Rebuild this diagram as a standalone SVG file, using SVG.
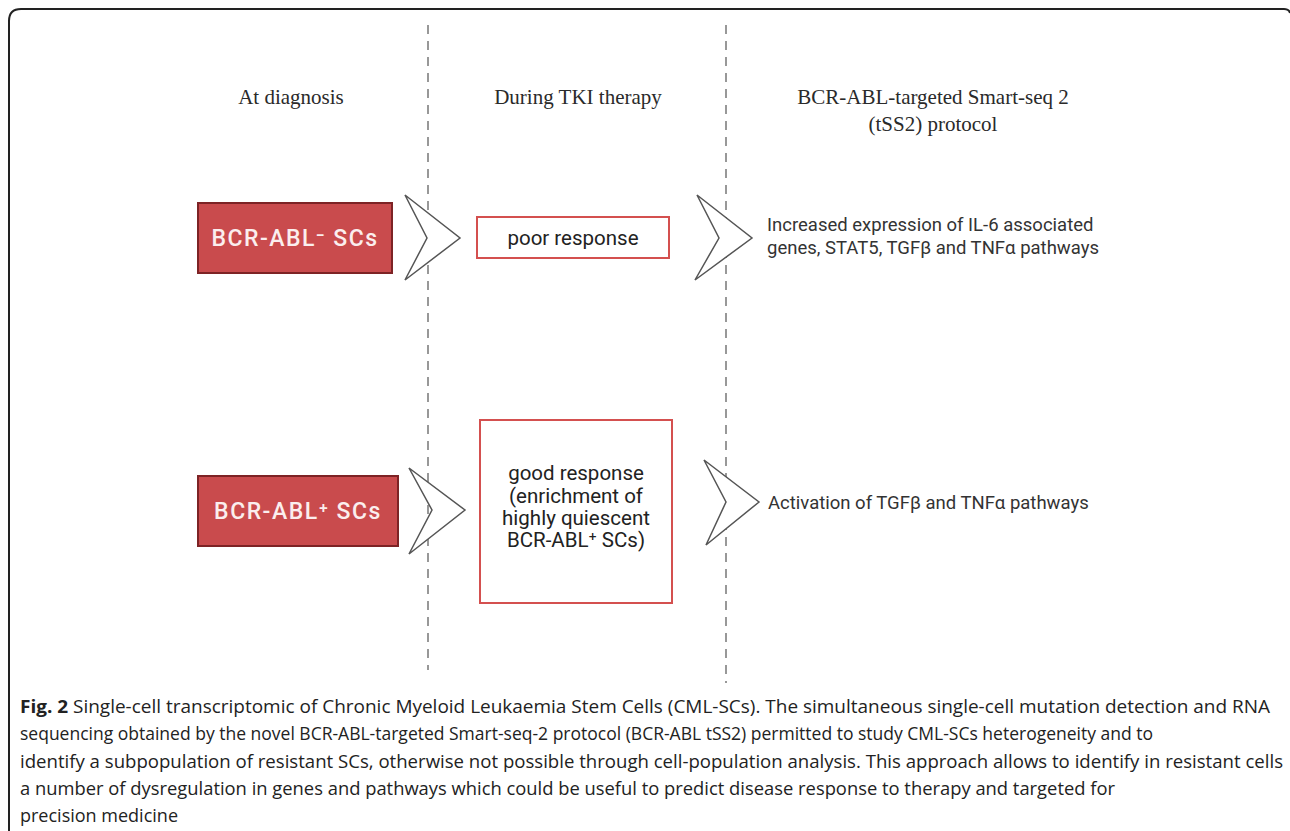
<svg xmlns="http://www.w3.org/2000/svg" width="1290" height="831" viewBox="0 0 1290 831">
<defs>
<style>
.hdr{font-family:"Liberation Serif","DejaVu Serif",serif;font-size:21px;fill:#2a2a2a;text-anchor:middle}
.red rect{fill:#c94b4d;stroke:#7d2325;stroke-width:2}
.red text{font-family:Roboto,"DejaVu Sans",sans-serif;font-weight:500;font-size:23px;fill:#fbeeee;text-anchor:middle;letter-spacing:1.5px}
.wbox rect{fill:#fff;stroke:#d4504f;stroke-width:2}
.wbox text{font-family:Roboto,"Liberation Sans",sans-serif;font-size:20.5px;fill:#222;text-anchor:middle}
.res text{font-family:Roboto,"Liberation Sans",sans-serif;font-size:18.5px;fill:#333}
.chev{fill:#fff;stroke:#555;stroke-width:1.5;stroke-linejoin:miter}
.dash{stroke:#777;stroke-width:1.5;stroke-dasharray:9 7;fill:none}
.cap{font-family:"Open Sans","Liberation Sans",sans-serif;font-size:18.5px;fill:#222}
</style>
</defs>
<rect width="1290" height="831" fill="#fff"/>
<path d="M9,831 V21 Q9,9 21,9 H1284 Q1289,9 1290,13" fill="none" stroke="#222" stroke-width="2"/>
<g id="dividers">
<line class="dash" x1="428" y1="25" x2="428" y2="670"/>
<line class="dash" x1="726" y1="25" x2="726" y2="683"/>
</g>
<g id="headers">
<text class="hdr" x="291" y="104">At diagnosis</text>
<text class="hdr" x="578" y="104">During TKI therapy</text>
<text class="hdr" x="933" y="104">BCR-ABL-targeted Smart-seq 2</text>
<text class="hdr" x="933" y="131">(tSS2) protocol</text>
</g>
<g id="connectors">
<polygon class="chev" points="405,195 460,238 405,280 427,238"/>
<polygon class="chev" points="409,468 465,510 409,554 432,510"/>
<polygon class="chev" points="697,195 752,238 695,280 719,238"/>
<polygon class="chev" points="704,460 759,502 706,545 726,502"/>
</g>
<g id="node-neg" class="red">
<rect x="198" y="203" width="194" height="70"/>
<text x="295" y="246">BCR-ABL⁻ SCs</text>
</g>
<g id="node-pos" class="red">
<rect x="198" y="476" width="200" height="70"/>
<text x="298" y="519">BCR-ABL⁺ SCs</text>
</g>
<g id="node-poor" class="wbox">
<rect x="477" y="217" width="192" height="41"/>
<text x="573" y="245">poor response</text>
</g>
<g id="node-good" class="wbox">
<rect x="480" y="420" width="192" height="183"/>
<text x="576" y="480">good response</text>
<text x="576" y="503">(enrichment of</text>
<text x="576" y="525">highly quiescent</text>
<text x="576" y="547">BCR-ABL⁺ SCs)</text>
</g>
<g id="node-res1" class="res">
<text x="767" y="231">Increased expression of IL-6 associated</text>
<text x="767" y="254">genes, STAT5, TGFβ and TNFα pathways</text>
</g>
<g id="node-res2" class="res">
<text x="768" y="509">Activation of TGFβ and TNFα pathways</text>
</g>
<g id="caption" class="cap">
<text x="20" y="713" textLength="1250" lengthAdjust="spacingAndGlyphs"><tspan font-weight="bold">Fig. 2</tspan> Single-cell transcriptomic of Chronic Myeloid Leukaemia Stem Cells (CML-SCs). The simultaneous single-cell mutation detection and RNA</text>
<text x="20" y="740" textLength="1133" lengthAdjust="spacingAndGlyphs">sequencing obtained by the novel BCR-ABL-targeted Smart-seq-2 protocol (BCR-ABL tSS2) permitted to study CML-SCs heterogeneity and to</text>
<text x="20" y="768" textLength="1263" lengthAdjust="spacingAndGlyphs">identify a subpopulation of resistant SCs, otherwise not possible through cell-population analysis. This approach allows to identify in resistant cells</text>
<text x="20" y="795" textLength="1095" lengthAdjust="spacingAndGlyphs">a number of dysregulation in genes and pathways which could be useful to predict disease response to therapy and targeted for</text>
<text x="20" y="822" textLength="158" lengthAdjust="spacingAndGlyphs">precision medicine</text>
</g>
</svg>
